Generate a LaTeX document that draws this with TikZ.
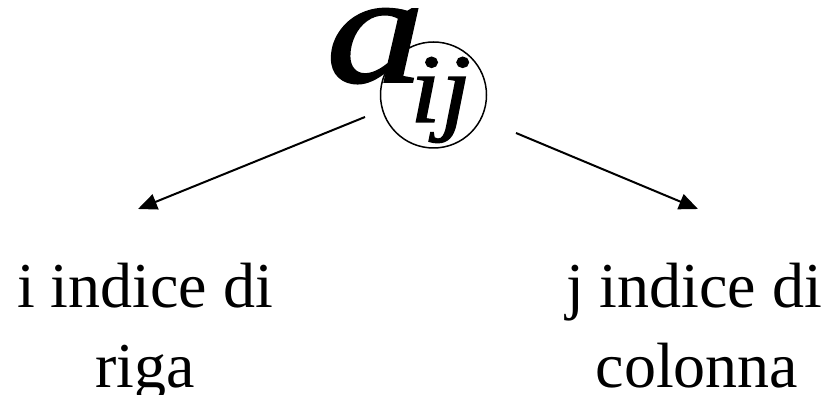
\documentclass[tikz,border=0pt]{standalone}
\usepackage{graphicx}
\usepackage{fontspec}
\setmainfont{Liberation Serif}
\newfontfamily\heavyit{Liberation Serif Italic}[FakeBold=1.2]
\usetikzlibrary{arrows.meta}
\begin{document}
\begin{tikzpicture}[x=1pt,y=-1pt,
  lbl/.style={inner sep=0pt,anchor=base,font=\fontsize{64}{79}\selectfont},
  arr/.style={line width=2pt,-{Triangle[length=19pt,width=16pt]}}]
\useasboundingbox (0,0) rectangle (830,395);
\node[inner sep=0pt,anchor=base west,font=\fontsize{156}{156}\selectfont\heavyit] (a) at (326,82) {\scalebox{1.26}[1]{a}};
\node[inner sep=0pt,anchor=base west,font=\fontsize{98}{98}\selectfont\heavyit] (ij) at (410,122) {\scalebox{1.12}[1]{ij}};
\node[draw,circle,line width=1.5pt,minimum size=106pt,inner sep=0pt] (ring) at (433.5,95) {};
\coordinate (sL) at (365,117);
\coordinate (eL) at (138,209);
\coordinate (sR) at (516,133);
\coordinate (eR) at (698,209);
\draw[arr] (sL) -- (eL);
\draw[arr] (sR) -- (eR);
\node[lbl] (l1) at (145,308) {i indice di};
\node[lbl] (l2) at (145,387) {riga};
\node[lbl] (r1) at (694,308) {j indice di};
\node[lbl] (r2) at (697,387) {colonna};
\end{tikzpicture}
\end{document}
